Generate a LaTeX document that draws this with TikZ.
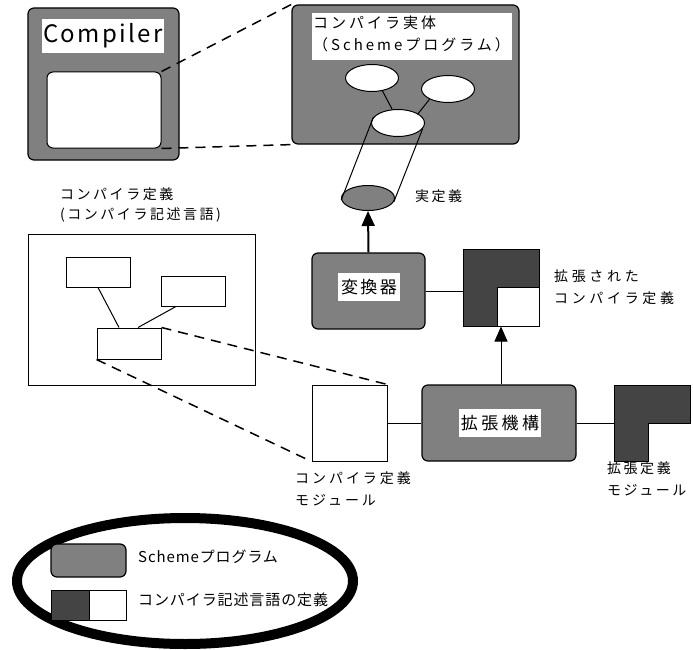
\documentclass[tikz,border=0pt]{standalone}
\usepackage{fontspec}
\setmainfont{Noto Sans CJK JP}
\usetikzlibrary{arrows.meta,shapes.geometric}
\definecolor{midgray}{RGB}{128,128,128}
\definecolor{darkfill}{RGB}{68,68,68}
\begin{document}
\begin{tikzpicture}[x=1pt,y=-1pt,
  prog/.style={draw=black, line width=1.2pt, fill=midgray, rounded corners=6pt, inner sep=0pt},
  whitebox/.style={draw=black, line width=1pt, fill=white, inner sep=0pt},
  lab/.style={fill=white, inner sep=0pt},
  oval/.style={ellipse, draw=black, line width=1pt, fill=white, inner sep=0pt, minimum width=53pt, minimum height=27pt},
  txt/.style={inner sep=0pt, anchor=west},
  zoomline/.style={line width=1.5pt, dash pattern=on 10pt off 7pt},
  conn/.style={line width=1pt},
  tip/.style={-{Triangle[length=15pt,width=13pt]}}
]
\useasboundingbox (0,0) rectangle (693,650);

% Compiler box (top left)
\node[prog, minimum width=151pt, minimum height=152pt] (compiler) at (103.5,84) {};
\node[lab, minimum width=122pt, minimum height=34pt, font=\fontsize{24}{26}\selectfont\addfontfeatures{LetterSpace=10}] (comptitle) at (103,36) {Compiler};
\node[whitebox, rounded corners=6pt, minimum width=114pt, minimum height=76pt] (compinner) at (104,110) {};

% Compiler entity (top right)
\node[prog, minimum width=227pt, minimum height=139pt] (entity) at (405.5,74.5) {};
\node[lab, minimum width=200pt, minimum height=47pt] (entitylab) at (412,36.5) {};
\node[txt, font=\fontsize{15}{17}\selectfont\addfontfeatures{LetterSpace=20}] (enttxt1) at (313,22.5) {コンパイラ実体};
\node[txt, font=\fontsize{15}{17}\selectfont\addfontfeatures{LetterSpace=20}] (enttxt2) at (313,45) {（Schemeプログラム）};
\node[oval] (e1) at (372,78) {};
\node[oval] (e2) at (448,89) {};
\node[oval] (e3) at (398,123) {};
\draw[conn] (e1.-51) -- (e3.113);
\draw[conn] (e2.209) -- (e3.25);
\node[oval, fill=midgray, minimum height=25pt] (cyl) at (368,198) {};
\draw[conn] (e3.167) -- (cyl.184);
\draw[conn] (e3.-13) -- (cyl.-8);
\node[txt, font=\fontsize{14}{16}\selectfont\addfontfeatures{LetterSpace=18}] (jitsu) at (415,196) {実定義};

% zoom lines top
\draw[zoomline] (compinner.north east) -- (entity.north west);
\draw[zoomline] (compinner.south east) -- (entity.south west);

% Converter
\node[prog, minimum width=113pt, minimum height=76pt] (conv) at (368.5,291) {};
\node[lab, minimum width=62pt, minimum height=28pt, font=\fontsize{17}{19}\selectfont\addfontfeatures{LetterSpace=14}] (convlab) at (369,287) {変換器};
\draw[line width=2pt, tip] (conv.north) -- (cyl.south);

% Extended compiler definition
\node[whitebox, fill=darkfill, minimum width=76pt, minimum height=77pt] (ext) at (501,287.5) {};
\node[whitebox, minimum width=42pt, minimum height=39pt] (extw) at (518,306.5) {};
\draw[conn] (conv.east) -- (conv.east -| ext.west);
\node[txt, font=\fontsize{14}{16}\selectfont\addfontfeatures{LetterSpace=26}] (exttxt1) at (554,276) {拡張された};
\node[txt, font=\fontsize{14}{16}\selectfont\addfontfeatures{LetterSpace=26}] (exttxt2) at (554,298) {コンパイラ定義};

% Extension mechanism
\node[prog, minimum width=154pt, minimum height=76pt] (mech) at (499,423) {};
\node[lab, minimum width=82pt, minimum height=28pt, font=\fontsize{17}{19}\selectfont\addfontfeatures{LetterSpace=20}] (mechlab) at (500,423) {拡張機構};
\draw[conn, tip] (ext.south |- mech.north) -- (ext.south);

% Compiler definition module
\node[whitebox, minimum width=75pt, minimum height=76pt] (module) at (349.5,423) {};
\draw[conn] (module.east) -- (mech.west);
\node[txt, font=\fontsize{14}{16}\selectfont\addfontfeatures{LetterSpace=21}] (modtxt1) at (295,478) {コンパイラ定義};
\node[txt, font=\fontsize{14}{16}\selectfont\addfontfeatures{LetterSpace=21}] (modtxt2) at (295,500) {モジュール};

% Extension definition module
\node[inner sep=0pt, minimum width=76pt, minimum height=76pt] (extmod) at (652,423) {};
\draw[line width=1pt, fill=darkfill] (614,385) -- (690,385) -- (690,423) -- (648,423) -- (648,461) -- (614,461) -- cycle;
\draw[conn] (mech.east) -- (extmod.west);
\node[txt, font=\fontsize{14}{16}\selectfont\addfontfeatures{LetterSpace=18}] (emtxt1) at (607,468) {拡張定義};
\node[txt, font=\fontsize{14}{16}\selectfont\addfontfeatures{LetterSpace=18}] (emtxt2) at (607,490) {モジュール};

% Compiler definition (left)
\node[txt, font=\fontsize{14}{16}\selectfont\addfontfeatures{LetterSpace=18}] (deftxt1) at (60,194) {コンパイラ定義};
\node[txt, font=\fontsize{14}{16}\selectfont\addfontfeatures{LetterSpace=18}] (deftxt2) at (60,215) {(コンパイラ記述言語)};
\node[whitebox, minimum width=227pt, minimum height=151pt] (frame) at (141.5,309.5) {};
\node[whitebox, minimum width=64pt, minimum height=30pt] (r1) at (98,272) {};
\node[whitebox, minimum width=64pt, minimum height=30pt] (r2) at (193,291) {};
\node[whitebox, minimum width=64pt, minimum height=31pt] (r3) at (129,343.5) {};
\draw[conn] (r1.south) -- ([xshift=-10pt]r3.north);
\draw[conn] ([xshift=-17pt]r2.south) -- ([xshift=9pt]r3.north);
\draw[zoomline] (r3.north east) -- (module.north east);
\draw[zoomline] (r3.south west) -- (module.south west);

% Legend
\node[ellipse, draw=black, line width=10pt, inner sep=0pt, minimum width=336pt, minimum height=126pt] (legend) at (185,581) {};
\node[prog, minimum width=75pt, minimum height=33pt] (legprog) at (88.5,560.5) {};
\node[whitebox, fill=darkfill, minimum width=38pt, minimum height=30pt] (legdark) at (70,605) {};
\node[whitebox, minimum width=37pt, minimum height=30pt] (legwhite) at (107.5,605) {};
\node[txt, font=\fontsize{15}{17}\selectfont\addfontfeatures{LetterSpace=6}] (legtxt1) at (138,557) {Schemeプログラム};
\node[txt, font=\fontsize{15}{17}\selectfont\addfontfeatures{LetterSpace=6}] (legtxt2) at (138,600) {コンパイラ記述言語の定義};
\end{tikzpicture}
\end{document}
